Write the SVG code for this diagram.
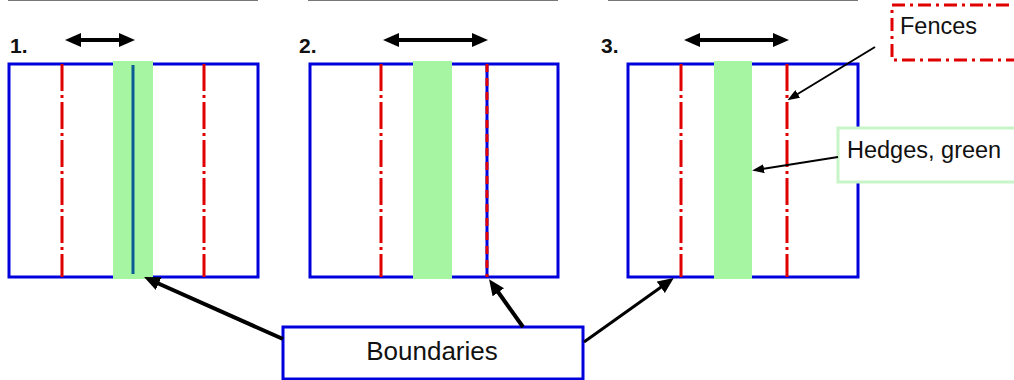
<svg xmlns="http://www.w3.org/2000/svg" width="1014" height="380" viewBox="0 0 1014 380">
<style>
.frame{fill:none;stroke:#0000dd;stroke-width:3}
.hedge{fill:#a6f5a2}
.fence{stroke:#e00000;stroke-width:3;stroke-dasharray:27,4,3,4;fill:none}
.bline{stroke:#0000dd;stroke-width:3}
.num{font-family:"Liberation Sans",Arial,sans-serif;font-weight:bold;font-size:21px;fill:#111}
.lbl{font-family:"Liberation Sans",Arial,sans-serif;fill:#111}
.top{stroke:#777;stroke-width:2}
.thick{stroke:#000;stroke-width:4;fill:none}
.thin{stroke:#000;stroke-width:2;fill:none}
</style>
<defs>
<marker id="ah" markerUnits="userSpaceOnUse" markerWidth="16" markerHeight="14" refX="4" refY="7" orient="auto-start-reverse"><path d="M0,0 L16,7 L0,14 z" fill="#000"/></marker>
<marker id="ahs" markerUnits="userSpaceOnUse" markerWidth="12" markerHeight="9" refX="2" refY="4.5" orient="auto"><path d="M0,0 L12,4.5 L0,9 z" fill="#000"/></marker>
</defs>
<g id="toplines">
<line class="top" x1="8" y1="0" x2="258" y2="0"/>
<line class="top" x1="308" y1="0" x2="558" y2="0"/>
<line class="top" x1="608" y1="0" x2="858" y2="0"/>
</g>
<g id="panel1">
<rect class="frame" x="9" y="64" width="249" height="213"/>
<line class="fence" x1="62" y1="64" x2="62" y2="277"/>
<line class="fence" x1="204" y1="64" x2="204" y2="277"/>
<rect class="hedge" x="113" y="61" width="40" height="218"/>
<line x1="133" y1="65" x2="133" y2="274" stroke="#0b5c94" stroke-width="3"/>
<text class="num" x="10" y="53">1.</text>
<line class="thick" x1="77" y1="40" x2="123" y2="40" marker-start="url(#ah)" marker-end="url(#ah)"/>
</g>
<g id="panel2">
<rect class="frame" x="310" y="64" width="248" height="213"/>
<line class="fence" x1="381" y1="64" x2="381" y2="277"/>
<line class="bline" x1="487" y1="64" x2="487" y2="277"/>
<line x1="487" y1="64" x2="487" y2="277" stroke="#e00000" stroke-width="3" stroke-dasharray="8,6"/>
<rect class="hedge" x="413" y="61" width="39" height="218"/>
<text class="num" x="299" y="53">2.</text>
<line class="thick" x1="395" y1="40" x2="476" y2="40" marker-start="url(#ah)" marker-end="url(#ah)"/>
</g>
<g id="panel3">
<rect class="frame" x="628" y="64" width="230" height="213"/>
<line class="fence" x1="681" y1="64" x2="681" y2="277"/>
<line class="fence" x1="787" y1="64" x2="787" y2="277"/>
<rect class="hedge" x="714" y="61" width="38" height="218"/>
<text class="num" x="601" y="53">3.</text>
<line class="thick" x1="696" y1="40" x2="777" y2="40" marker-start="url(#ah)" marker-end="url(#ah)"/>
</g>
<g id="fences">
<rect x="892" y="5" width="140" height="55" fill="#fff" stroke="#e00000" stroke-width="3" stroke-dasharray="13,5,3,5"/>
<text class="lbl" x="900" y="34" font-size="23.5">Fences</text>
</g>
<g id="hedges">
<rect x="838" y="128" width="190" height="54" fill="#fff" stroke="#c8f5c8" stroke-width="3"/>
<text class="lbl" x="847" y="158" font-size="23.5">Hedges, green</text>
</g>
<g id="boundaries">
<rect x="283" y="327" width="300" height="52" fill="#fff" stroke="#0000dd" stroke-width="3"/>
<text class="lbl" x="432" y="360" font-size="26" text-anchor="middle">Boundaries</text>
</g>
<g id="connectors">
<line class="thick" x1="283" y1="339" x2="155" y2="282" marker-end="url(#ah)"/>
<line class="thick" x1="523" y1="327" x2="496" y2="289" marker-end="url(#ah)"/>
<line class="thick" style="stroke-width:3" x1="584" y1="342" x2="664" y2="285" marker-end="url(#ah)"/>
<line class="thin" x1="875" y1="47" x2="796" y2="95" marker-end="url(#ahs)"/>
<line class="thin" x1="838" y1="157" x2="762" y2="169" marker-end="url(#ahs)"/>
</g>
</svg>
